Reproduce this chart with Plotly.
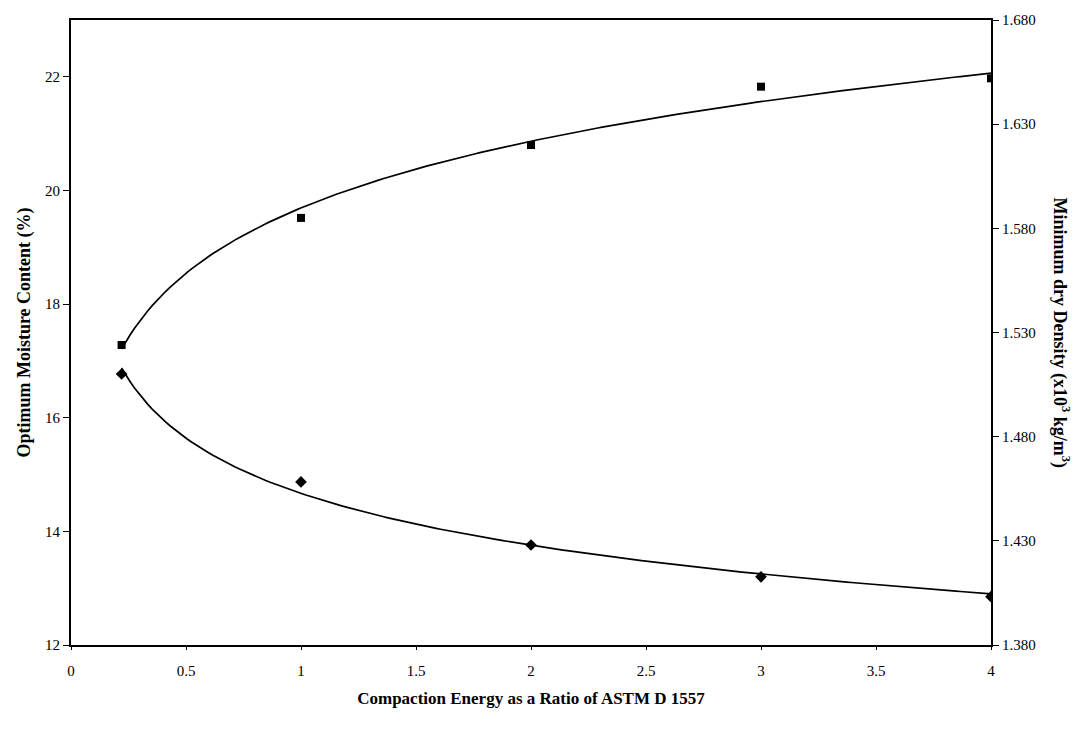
import numpy as np
import plotly.graph_objects as go

# Data
energy_ratio = [0.22, 1, 2, 3, 4]
moisture_pct = [16.77, 14.87, 13.76, 13.20, 12.85]          # left axis, diamonds
dry_density = [1.524, 1.585, 1.620, 1.648, 1.652]           # right axis, squares

x_ticks = [0, 0.5, 1, 1.5, 2, 2.5, 3, 3.5, 4]
x_tick_text = ["0", "0.5", "1", "1.5", "2", "2.5", "3", "3.5", "4"]
y_ticks = [12, 14, 16, 18, 20, 22]
y2_ticks = [1.38, 1.43, 1.48, 1.53, 1.58, 1.63, 1.68]
y2_tick_text = ["1.380", "1.430", "1.480", "1.530", "1.580", "1.630", "1.680"]


def power_trend(xs, ys, n=200):
    b, ln_a = np.polyfit(np.log(xs), np.log(ys), 1)
    xf = np.linspace(min(xs), max(xs), n)
    return xf, np.exp(ln_a) * xf ** b


fig = go.Figure()

xm, ym = power_trend(energy_ratio, moisture_pct)
xd, yd = power_trend(energy_ratio, dry_density)

fig.add_trace(go.Scatter(x=xm, y=ym, mode="lines", line=dict(color="black", width=1.7),
                         hoverinfo="skip", showlegend=False))
fig.add_trace(go.Scatter(x=energy_ratio, y=moisture_pct, mode="markers",
                         marker=dict(symbol="diamond", size=9, color="black"),
                         showlegend=False))
fig.add_trace(go.Scatter(x=xd, y=yd, mode="lines", line=dict(color="black", width=1.7),
                         yaxis="y2", hoverinfo="skip", showlegend=False))
fig.add_trace(go.Scatter(x=energy_ratio, y=dry_density, mode="markers",
                         marker=dict(symbol="square", size=8, color="black"),
                         yaxis="y2", showlegend=False))

tick_font = dict(family="Liberation Serif", size=15, color="black")
title_font = dict(family="Liberation Serif", size=17, color="black")

fig.update_layout(
    width=1082, height=729,
    margin=dict(l=71, r=91, t=12, b=84),
    paper_bgcolor="white", plot_bgcolor="white",
    xaxis=dict(range=[0, 4], tickvals=x_ticks, ticktext=x_tick_text,
               showgrid=False, zeroline=False, showline=True, linecolor="black",
               linewidth=2, mirror=True, ticks="outside", ticklen=3,
               tickcolor="black", tickfont=tick_font, ticklabelstandoff=8,
               title=dict(text="<b>Compaction Energy as a Ratio of ASTM D 1557</b>",
                          font=title_font, standoff=14)),
    yaxis=dict(range=[12, 23], tickvals=y_ticks, showgrid=False, zeroline=False,
               showline=True, linecolor="black", linewidth=2, ticks="outside",
               ticklen=6, tickcolor="black", tickfont=tick_font,
               title=dict(text="<b>Optimum Moisture Content (%)</b>",
                          font=dict(family="Liberation Serif", size=18, color="black"),
                          standoff=10)),
    yaxis2=dict(range=[1.38, 1.68], tickvals=y2_ticks, ticktext=y2_tick_text,
                overlaying="y", side="right", showgrid=False, zeroline=False,
                showline=True, linecolor="black", linewidth=2, ticks="outside",
                ticklen=6, tickcolor="black", tickfont=tick_font),
)

fig.add_annotation(
    text="<b>Minimum dry Density (x10<sup>3</sup> kg/m<sup>3</sup>)</b>",
    xref="paper", yref="paper", x=1.0, y=0.5, xshift=84, textangle=90,
    showarrow=False, font=dict(family="Liberation Serif", size=18, color="black"),
)

fig.write_html("out.html")
